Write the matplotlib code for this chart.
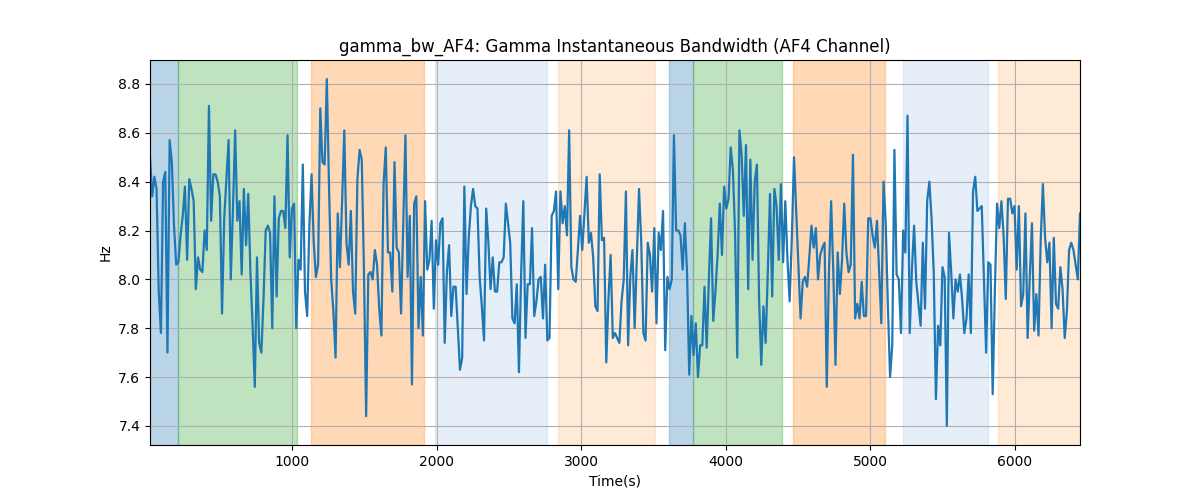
import numpy as np
import matplotlib
matplotlib.use("Agg")
import matplotlib.pyplot as plt

values = [
    # segment 1
    8.50, 8.34, 8.42, 8.37, 7.95, 7.78, 8.40, 8.44, 7.70, 8.57,
    8.48, 8.22, 8.06, 8.07, 8.18, 8.26, 8.38, 8.08, 8.41, 8.37,
    8.32, 7.96, 8.09, 8.04, 8.03, 8.20, 8.12, 8.71, 8.24, 8.43,
    8.43, 8.40, 8.34, 7.86, 8.25, 8.41, 8.57, 8.00, 8.29, 8.61,
    8.24, 8.32, 8.02, 8.37, 8.14, 8.35, 8.03, 7.81, 7.56, 8.09,
    7.74, 7.70, 7.92, 8.20, 8.22, 8.19, 7.80, 8.34, 7.93,
    # segment 2
    8.25, 8.28, 8.28, 8.21, 8.59, 8.09, 8.29, 8.31, 7.80, 8.08,
    8.04, 8.47, 7.95, 7.85, 8.22, 8.43, 8.15, 8.01, 8.06, 8.70,
    8.48, 8.47, 8.82, 8.38, 8.00, 7.87, 7.68, 8.27, 8.05, 8.32,
    8.61, 8.15, 8.06, 8.28, 7.95, 7.86, 8.41, 8.53, 8.49, 8.04,
    7.44, 8.02, 8.03, 8.00, 8.12, 8.06, 7.88, 7.77, 8.39, 8.54,
    8.11, 8.11, 7.95, 8.48, 8.13, 8.11, 7.86, 8.22, 8.59, 8.01,
    8.26, 7.57,
    # segment 3
    8.31, 8.34, 7.80, 8.01, 7.77, 8.32, 8.04, 8.08, 8.24, 7.88,
    8.16, 8.06, 8.23, 8.25, 7.74, 8.03, 8.14, 7.85, 7.97, 7.97,
    7.80, 7.63, 7.68, 8.38, 7.94, 8.17, 8.30, 8.37, 8.30, 8.29,
    8.01, 7.89, 7.75, 8.29, 8.15, 7.96, 8.09, 7.95, 7.95, 8.07,
    8.07, 8.09, 8.31, 8.23, 8.15, 7.84, 7.82, 7.98, 7.62, 8.02,
    8.32, 7.76, 7.98, 7.98, 8.21, 7.85, 7.91, 8.00, 8.01, 7.84,
    8.06,
    # segment 4
    7.75, 7.76, 8.26, 8.28, 8.36, 7.96, 8.36, 8.23, 8.30, 8.18,
    8.61, 8.05, 8.00, 7.99, 8.12, 8.26, 8.12, 8.27, 8.42, 8.15,
    8.19, 8.09, 7.89, 7.87, 8.43, 8.16, 8.17, 7.66, 7.92, 8.10,
    7.76, 7.78, 7.76, 7.74, 7.91, 8.00, 8.36, 7.73, 8.01, 8.12,
    7.80, 8.08, 8.37, 8.16, 7.78, 7.75, 8.15, 8.10, 7.95, 8.21,
    7.82, 8.19, 8.12, 8.28, 7.71, 8.01, 7.96, 8.00, 8.59, 8.20,
    8.20,
    # segment 5
    8.18, 8.04, 8.23, 8.03, 7.61, 7.85, 7.69, 7.82, 7.60, 7.73,
    7.73, 7.97, 7.72, 8.00, 8.25, 7.83, 7.95, 8.10, 8.31, 8.10,
    8.38, 8.29, 8.33, 8.54, 8.45, 8.19, 7.68, 8.61, 8.51, 8.26,
    8.55, 7.96, 8.49, 8.08, 8.40, 8.47, 7.92, 7.65, 7.89, 7.74,
    8.03, 8.35, 7.93, 8.37, 8.30, 8.08, 8.39, 8.07, 8.32, 8.08,
    7.91, 8.17, 8.50, 8.28, 8.06, 7.84, 7.99, 8.01, 7.97, 8.09,
    8.22, 8.13,
    # segment 6
    8.21, 8.00, 8.10, 8.13, 8.15, 7.56, 8.03, 8.32, 8.03, 7.65,
    8.11, 7.94, 8.08, 8.31, 8.11, 8.03, 8.06, 8.51, 7.84, 7.90,
    7.84, 7.99, 7.85, 7.85, 8.25, 8.25, 8.18, 8.13, 8.24, 8.03,
    7.82, 8.40, 8.23, 7.89, 7.60, 7.73, 8.53, 8.02, 8.00, 7.78,
    8.20, 8.11, 8.67, 7.78, 8.04, 8.22, 7.99, 7.90, 7.81, 8.15,
    7.88, 8.32, 8.40, 8.25, 8.03, 7.51, 7.81, 7.73, 8.05, 8.01,
    7.40,
    # segment 7
    8.19, 8.03, 7.84, 8.00, 7.95, 8.02, 7.92, 7.78, 7.84, 8.02,
    7.78, 8.36, 8.42, 8.28, 8.29, 8.30, 8.00, 7.70, 8.07, 8.06,
    7.53, 7.95, 8.31, 8.21, 8.32, 8.18, 7.92, 8.33, 8.33, 8.27,
    8.30, 8.04, 8.30, 7.89, 7.94, 8.27, 7.76, 8.01, 8.23, 7.79,
    7.94, 7.77, 8.16, 8.39, 8.17, 8.07, 8.15, 7.80, 8.17, 7.90,
    7.88, 8.05, 7.96, 7.76, 7.87, 8.12, 8.15, 8.12, 8.06, 8.00,
    8.27,
]

t_start, t_end = 18, 6450
times = np.linspace(t_start, t_end, len(values))

span_starts = [18, 214, 1131, 1990, 2840, 3607, 3775, 4465, 5225, 5882]
span_ends = [214, 1036, 1911, 2761, 3508, 3775, 4387, 5099, 5811, 6450]
span_colors = ["#1f77b4", "#2ca02c", "#ff7f0e", "#aec7e8", "#ffbb78",
               "#1f77b4", "#2ca02c", "#ff7f0e", "#aec7e8", "#ffbb78"]

fig, ax = plt.subplots(figsize=(12, 5), dpi=100)
for s, e, c in zip(span_starts, span_ends, span_colors):
    ax.axvspan(s, e, color=c, alpha=0.3)
ax.plot(times, values, color="#1f77b4", linewidth=1.6)
ax.set_xlim(t_start, t_end)
ax.set_ylim(7.322, 8.898)
ax.grid(True)
ax.set_title("gamma_bw_AF4: Gamma Instantaneous Bandwidth (AF4 Channel)")
ax.set_xlabel("Time(s)")
ax.set_ylabel("Hz")
fig.savefig("out.png")
